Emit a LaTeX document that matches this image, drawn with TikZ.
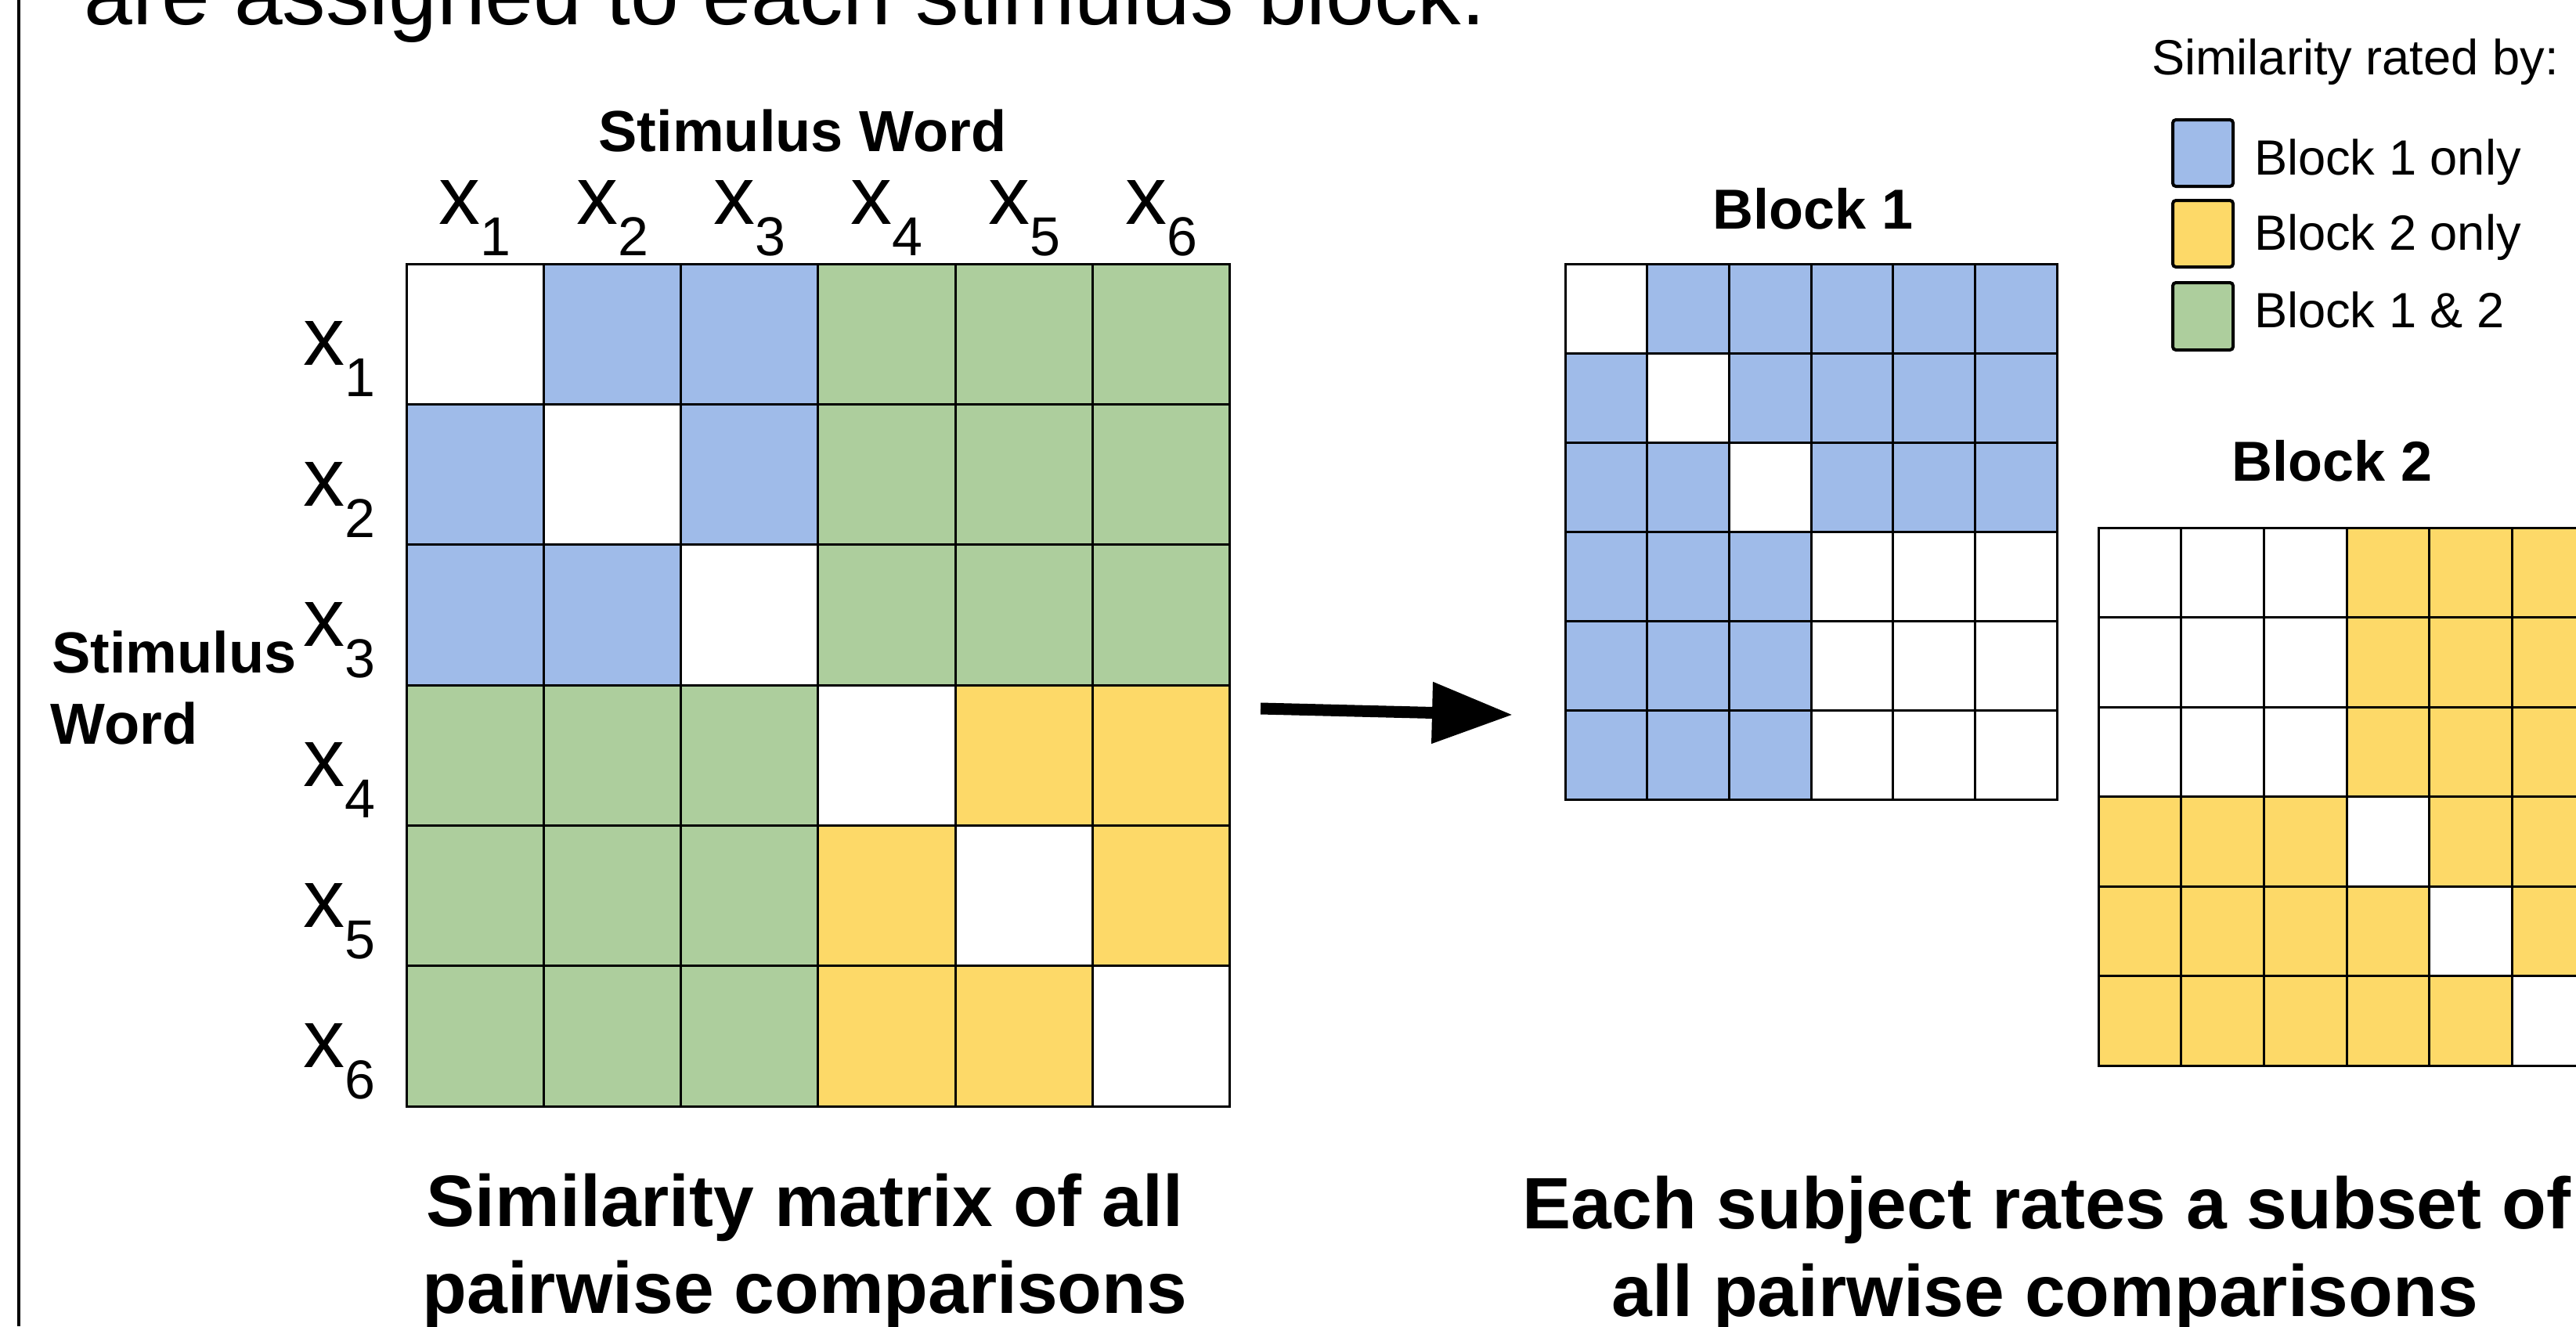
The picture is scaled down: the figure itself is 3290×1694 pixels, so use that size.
\documentclass[tikz,border=0pt]{standalone}
\usepackage{fontspec}
\setmainfont{Liberation Sans}
\usetikzlibrary{arrows.meta}
\definecolor{cblue}{HTML}{9FBBE9}
\definecolor{cyellow}{HTML}{FDD968}
\definecolor{cgreen}{HTML}{ADCE9D}
\newcommand{\myfs}[1]{\fontsize{#1pt}{#1pt}\selectfont}
\begin{document}
\begin{tikzpicture}[x=0.25pt, y=-0.25pt,
  cell/.style={draw=black, line width=0.75pt},
  lbl/.style={inner sep=0pt, outer sep=0pt},
  swatch/.style={draw=black, line width=1pt, rounded corners=1pt},
  xlab/.style={lbl, font=\myfs{26.5}},
  title/.style={lbl, font=\bfseries\myfs{18.5}},
  btitle/.style={lbl, font=\bfseries\myfs{18}},
  legtext/.style={lbl, anchor=base west, font=\myfs{15.8}},
  caption/.style={lbl, anchor=base, font=\bfseries\myfs{23.25}},
  bigarrow/.style={line width=3.75pt, -{Triangle[length=25.75pt,width=18.75pt]}}]
\useasboundingbox (0,0) rectangle (3290,1694);
\clip (0,0) rectangle (3290,1694);
\fill[white] (0,0) rectangle (3290,1694);

% left border
\draw[line width=1.15pt] (24,0) -- (24,1694);

% top text (cut off)
\node[lbl, anchor=base west, font=\myfs{27.75}] (toptext) at (108,31) {are assigned to each stimulus block.};

% ---------- main matrix ----------
\def\mx{519}\def\my{337}\def\mw{175.33}\def\mh{179.33}
\foreach \i in {1,...,6}{\foreach \j in {1,...,6}{
  \ifnum\i=\j \def\cc{white}\else
    \ifnum\i<4 \ifnum\j<4 \def\cc{cblue}\else\def\cc{cgreen}\fi
    \else \ifnum\j<4 \def\cc{cgreen}\else\def\cc{cyellow}\fi\fi
  \fi
  \filldraw[cell, fill=\cc] ({\mx+(\j-1)*\mw},{\my+(\i-1)*\mh}) rectangle ++(\mw,\mh);
}}
\foreach \j in {1,...,6}{
  \node[xlab, anchor=base] (cx\j) at ({\mx+(\j-0.5)*\mw},286) {x\raisebox{-10pt}{\myfs{17.5}\j}};
  \node[xlab, anchor=base west] (rx\j) at (387,{\my+(\j-0.5)*\mh+40}) {x\raisebox{-10pt}{\myfs{17.5}\j}};
}
\node[title, anchor=base] (swtop) at (1025,193) {Stimulus Word};
\node[title, anchor=base west] (swl1) at (66,859) {Stimulus};
\node[title, anchor=base west] (swl2) at (65,950) {Word};

% ---------- arrow ----------
\coordinate (aS) at (1610,905);
\coordinate (aE) at (1932,913);
\draw[bigarrow] (aS) -- (aE);

% ---------- Block 1 ----------
\def\ax{1999}\def\ay{337}\def\aw{104.67}\def\ah{114}
\foreach \i in {1,...,6}{\foreach \j in {1,...,6}{
  \def\cc{white}
  \ifnum\i=\j \else
    \ifnum\i<4 \def\cc{cblue}\fi
    \ifnum\j<4 \def\cc{cblue}\fi
  \fi
  \filldraw[cell, fill=\cc] ({\ax+(\j-1)*\aw},{\ay+(\i-1)*\ah}) rectangle ++(\aw,\ah);
}}
\node[btitle, anchor=base] (b1t) at (2316,292) {Block 1};

% ---------- Block 2 ----------
\def\bx{2680}\def\by{674}\def\bw{105.7}\def\bh{114.5}
\foreach \i in {1,...,6}{\foreach \j in {1,...,6}{
  \def\cc{white}
  \ifnum\i=\j \else
    \ifnum\i>3 \def\cc{cyellow}\fi
    \ifnum\j>3 \def\cc{cyellow}\fi
  \fi
  \filldraw[cell, fill=\cc] ({\bx+(\j-1)*\bw},{\by+(\i-1)*\bh}) rectangle ++(\bw,\bh);
}}
\node[btitle, anchor=base] (b2t) at (2979,614) {Block 2};

% ---------- legend ----------
\node[legtext] (legtitle) at (2748,95) {Similarity rated by:};
\filldraw[swatch, fill=cblue] (2775,153) rectangle (2852,238);
\filldraw[swatch, fill=cyellow] (2775,256) rectangle (2852,341);
\filldraw[swatch, fill=cgreen] (2775,361) rectangle (2852,447);
\node[legtext] (leg1) at (2879,223) {Block 1 only};
\node[legtext] (leg2) at (2879,319) {Block 2 only};
\node[legtext] (leg3) at (2879,418) {Block 1 \& 2};

% ---------- captions ----------
\node[caption] (capL1) at (1028,1566) {Similarity matrix of all};
\node[caption] (capL2) at (1028,1677) {pairwise comparisons};
\node[caption] (capR1) at (2614,1569) {Each subject rates a subset of};
\node[caption] (capR2) at (2612,1681) {all pairwise comparisons};
\end{tikzpicture}
\end{document}
